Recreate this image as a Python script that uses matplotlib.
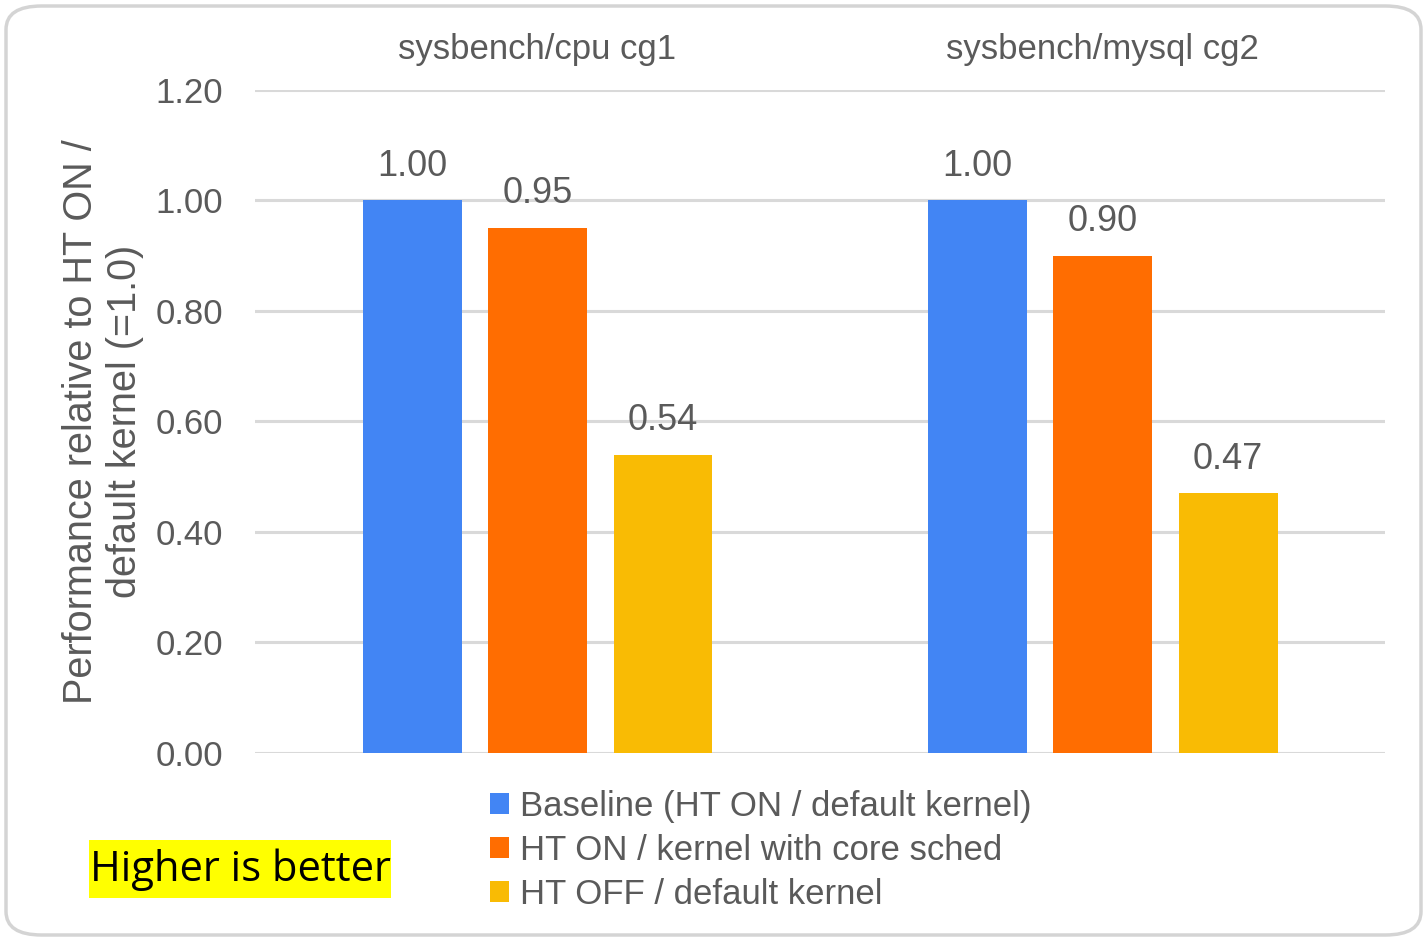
import matplotlib.pyplot as plt
from matplotlib.patches import FancyBboxPatch, Patch, Rectangle
import numpy as np

# Data
categories = ["sysbench/cpu cg1", "sysbench/mysql cg2"]
series_names = ["Baseline (HT ON / default kernel)",
                "HT ON / kernel with core sched",
                "HT OFF / default kernel"]
baseline = [1.00, 1.00]
core_sched = [0.95, 0.90]
ht_off = [0.54, 0.47]
yticks = [0.0, 0.2, 0.4, 0.6, 0.8, 1.0, 1.2]

colors = ["#4285f4", "#ff6d01", "#f9bb04"]
text_color = "#5a5a5a"
grid_color = "#d9d9d9"

plt.rcParams['font.family'] = ['Liberation Sans', 'DejaVu Sans']


def main():
    W, H = 1427, 941
    fig = plt.figure(figsize=(W / 100, H / 100), dpi=100, facecolor="white")

    # rounded border around the whole chart
    border = FancyBboxPatch((6 / W, 6 / H), 1 - 12 / W, 1 - 12 / H,
                            boxstyle="round,pad=0,rounding_size=0.025",
                            transform=fig.transFigure, facecolor="none",
                            edgecolor="#d4d4d4", linewidth=2.5, zorder=-1)
    fig.patches.append(border)

    ax = fig.add_axes([0.1787, 0.1998, 0.792, 0.7046])
    ax.set_facecolor("none")

    x = np.arange(len(categories))
    width = 0.175
    step = 0.222
    all_series = [baseline, core_sched, ht_off]
    for i, vals in enumerate(all_series):
        bars = ax.bar(x + (i - 1) * step, vals, width, color=colors[i], zorder=3)
        for b, v in zip(bars, vals):
            ax.annotate(f"{v:.2f}", (b.get_x() + b.get_width() / 2, v),
                        xytext=(0, 12), textcoords="offset points",
                        ha="center", va="bottom", fontsize=26, color=text_color)

    ax.set_xlim(-0.5, 1.5)
    ax.set_ylim(0, 1.2)
    ax.set_yticks(yticks)
    ax.set_yticklabels([f"{t:.2f}" for t in yticks])
    ax.yaxis.grid(True, color=grid_color, linewidth=2.2, zorder=0)
    ax.set_axisbelow(True)
    ax.tick_params(axis="y", length=0, pad=23, labelsize=25, labelcolor=text_color)

    ax.xaxis.set_ticks_position("top")
    ax.set_xticks(x)
    ax.set_xticklabels(categories)
    ax.tick_params(axis="x", length=0, pad=17, labelsize=25, labelcolor=text_color)

    for s in ax.spines.values():
        s.set_visible(False)

    ax.set_ylabel("Performance relative to HT ON /\ndefault kernel (=1.0)",
                  fontsize=28.5, color=text_color, labelpad=8, linespacing=1.2)

    # legend
    handles = [Patch(facecolor=c, edgecolor="none") for c in colors]
    fig.legend(handles, series_names, loc="upper left",
               bbox_to_anchor=(490 / W, 1 - 790 / H),
               frameon=False, fontsize=25, labelcolor=text_color,
               handlelength=0.55, handleheight=0.55, handletextpad=0.3,
               labelspacing=0.32, borderpad=0, borderaxespad=0)

    # highlighted note
    fig.patches.append(Rectangle((89 / W, 1 - 898 / H), 302 / W, 58 / H,
                                 transform=fig.transFigure,
                                 facecolor="#ffff00", edgecolor="none"))
    fig.text(240 / W, 1 - 870 / H, "Higher is better",
             ha="center", va="center", fontsize=30, family="Open Sans",
             color="black")

    fig.savefig("out.png", dpi=100)


if __name__ == '__main__':
    main()
